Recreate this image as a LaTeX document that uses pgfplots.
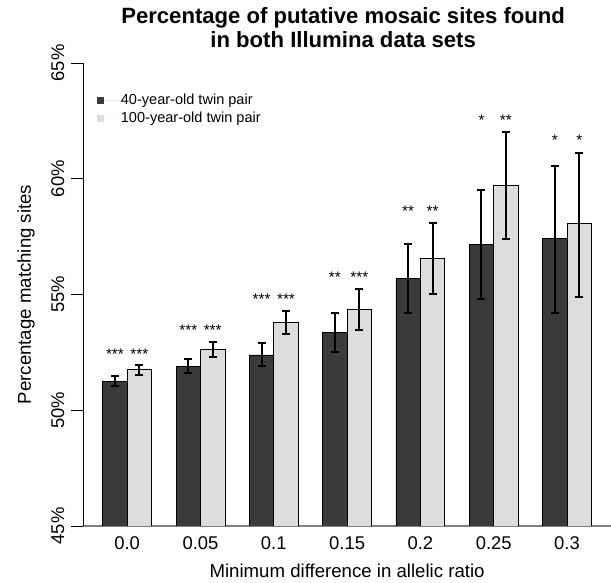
\documentclass[border=0pt]{standalone}
\usepackage{pgfplots}
\usepackage{pgfplotstable}
\pgfplotsset{compat=1.18}
\usepackage{fontspec}
\setmainfont{Liberation Sans}
\definecolor{barDark}{RGB}{58,58,58}
\definecolor{barLight}{RGB}{221,221,221}
\definecolor{axGray}{RGB}{128,128,128}

\pgfplotstableread{
x y ep em
1.5 51.26 0.22 0.23
4.5 51.91 0.29 0.30
7.5 52.39 0.50 0.49
10.5 53.37 0.84 0.87
13.5 55.71 1.48 1.50
16.5 57.18 2.35 2.39
19.5 57.41 3.13 3.20
}\darktab

\pgfplotstableread{
x y ep em
2.5 51.75 0.20 0.21
5.5 52.63 0.32 0.33
8.5 53.78 0.49 0.50
11.5 54.34 0.88 0.89
14.5 56.58 1.51 1.55
17.5 59.72 2.31 2.34
20.5 58.05 3.08 3.14
}\lighttab

\pgfplotstableread{
x y lab
1.5 52.21 ***
2.5 52.21 ***
4.5 53.21 ***
5.5 53.21 ***
7.5 54.55 ***
8.5 54.55 ***
10.5 55.50 **
11.5 55.50 ***
13.5 58.39 **
14.5 58.39 **
16.5 62.32 *
17.5 62.32 **
19.5 61.43 *
20.5 61.43 *
}\startab

\begin{document}
\begin{tikzpicture}
\begin{axis}[
  scale only axis,
  width=527.8bp, height=463bp,
  xmin=0.2, xmax=21.8, ymin=45, ymax=65,
  enlargelimits=false,
  axis x line*=bottom, axis y line*=left,
  x axis line style={draw=axGray, line width=1.2bp},
  y axis line style={draw=black, line width=0.8bp},
  xtick={2,5,8,11,14,17,20},
  xticklabels={0.0,0.05,0.1,0.15,0.2,0.25,0.3},
  x tick style={draw=none},
  ytick={45,50,55,60,65},
  yticklabels={45\%,50\%,55\%,60\%,65\%},
  tick align=outside,
  y tick style={draw=black, line width=0.8bp},
  major tick length=11.7bp,
  ticklabel style={font=\fontsize{18.5}{20}\selectfont},
  yticklabel style={rotate=90, anchor=south, inner sep=0pt},
  yticklabel shift=7bp,
  xticklabel style={anchor=base, inner sep=0pt, yshift=-12bp},
  xlabel={Minimum difference in allelic ratio},
  ylabel={Percentage matching sites},
  label style={font=\fontsize{18.7}{20}\selectfont, inner sep=0pt},
  xlabel style={at={(axis description cs:0.5,-0.1108)}, anchor=base},
  ylabel style={at={(axis description cs:-0.1084,0.5)}, anchor=center, rotate=0},
  title={Percentage of putative mosaic sites found\\in both Illumina data sets},
  title style={at={(axis description cs:0.4925,1.107)}, anchor=north, align=center, inner sep=0pt,
    font=\fontsize{22.2}{23.5}\selectfont\bfseries},
  legend style={draw=none, fill=none, inner sep=0pt, at={(axis description cs:0.0256,0.9352)}, anchor=north west,
    font=\fontsize{14.6}{17}\selectfont, row sep=4bp,
    nodes={inner sep=0pt, text height=10.8bp, text depth=3.2bp}},
  legend cell align=left,
]
\addplot[ybar, bar width=1, bar shift=0pt, fill=barDark, draw=black, line width=0.8bp,
  legend image code/.code={\fill[barDark, draw=none] (0bp,-3.5bp) rectangle (7bp,3.5bp); \path[draw=none] (0bp,0bp) -- (24bp,0bp);},
  error bars/.cd, y dir=both, y explicit,
  error bar style={line width=2bp, black},
  error mark options={rotate=90, mark size=4bp, line width=2bp, black}]
  table[x=x, y=y, y error plus=ep, y error minus=em] {\darktab};
\addlegendentry{40-year-old twin pair}
\addplot[ybar, bar width=1, bar shift=0pt, fill=barLight, draw=black, line width=0.8bp,
  legend image code/.code={\fill[barLight, draw=none] (0bp,-3.5bp) rectangle (7bp,3.5bp); \path[draw=none] (0bp,0bp) -- (24bp,0bp);},
  error bars/.cd, y dir=both, y explicit,
  error bar style={line width=2bp, black},
  error mark options={rotate=90, mark size=4bp, line width=2bp, black}]
  table[x=x, y=y, y error plus=ep, y error minus=em] {\lighttab};
\addlegendentry{100-year-old twin pair}
\addplot[draw=none, mark=none, forget plot,
  nodes near coords={\pgfplotspointmeta},
  point meta=explicit symbolic,
  every node near coord/.append style={anchor=base, inner sep=0pt, font=\fontsize{15.4}{16}\selectfont}]
  table[x=x, y=y, meta=lab] {\startab};
\end{axis}
\pgfresetboundingbox
\path[use as bounding box] ([shift={(-83.2bp,-57bp)}]current axis.south west) rectangle ([shift={(0bp,63bp)}]current axis.north east);
\end{tikzpicture}
\end{document}
